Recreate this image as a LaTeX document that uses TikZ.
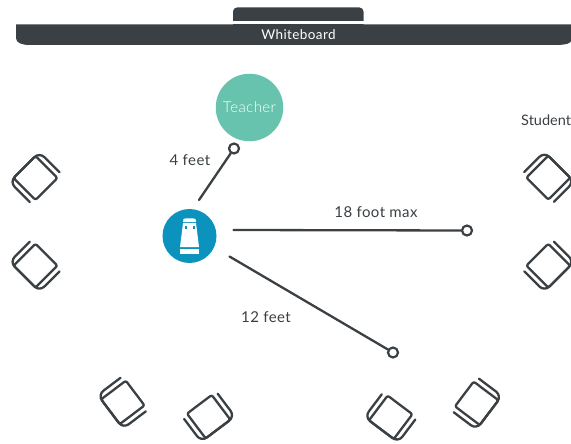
\documentclass[tikz,border=0pt]{standalone}
\usepackage{fontspec}
\setmainfont{Lato}
\newfontfamily\lightf[LetterSpace=3]{Lato Light}
\newfontfamily\spacedf[LetterSpace=3]{Lato}
\definecolor{dk}{HTML}{3A4043}
\definecolor{teal1}{HTML}{68C3AE}
\definecolor{blue1}{HTML}{0B93BD}
\tikzset{
 chairline/.style={draw=dk,line width=2.3pt,line cap=round,line join=round},
 measure/.style={draw=dk,line width=2.3pt,line cap=round},
 endring/.style={circle,draw=dk,line width=2.2pt,fill=white,minimum size=10pt,inner sep=0pt},
 lbl/.style={text=dk,font=\spacedf\fontsize{15}{17}\selectfont,inner sep=0pt},
 pics/chairshape/.style={code={
  \draw[chairline,rounded corners=2pt] (-15.5,-15.5) rectangle (15.5,15.5);
  \draw[chairline,rounded corners=7pt] (-21,13) -- (-21,-15.5) -- (21,-15.5) -- (21,13);
 }}
}
\begin{document}
\begin{tikzpicture}[x=1pt,y=-1pt]
\useasboundingbox (0,0) rectangle (571,444);
\clip (0,0) rectangle (571,444);
\fill[dk,rounded corners=4pt] (233,30) -- (233,7.5) -- (363.5,7.5) -- (363.5,30) -- cycle;
\fill[white] (225,21) rectangle (370,24.5);
\fill[dk] (16,24.5) -- (16,38) .. controls (16,43) and (22,45) .. (30,45) -- (556,45) .. controls (566,45) and (571,43) .. (571,41) -- (571,24.5) -- cycle;
\node[text=white,font=\spacedf\fontsize{13.5}{15}\selectfont,inner sep=0pt] (wb) at (298.5,35) {Whiteboard};
\node[circle,fill=teal1,minimum size=67.5pt,inner sep=0pt,text=white,font=\lightf\fontsize{15}{17}\selectfont] (teacher) at (249.5,107.5) {Teacher};
\node[circle,fill=blue1,minimum size=54pt,inner sep=0pt] (device) at (189.5,236) {};
\fill[white] (183.5,219) .. controls (184,218) and (195,218) .. (195.5,219) -- (196,222) -- (183,222) -- cycle;
\fill[white] (183,223) -- (196,223) -- (199,247) -- (180,247) -- cycle;
\fill[white] (180,249) rectangle (199,253.5);
\fill[blue1] (184.5,226) rectangle (186.5,228.5);
\fill[blue1] (192.5,226) rectangle (194.5,228.5);
\coordinate (a1s) at (199,200);
\node[endring] (a1e) at (234,148.5) {};
\coordinate (a2s) at (233.5,230);
\node[endring] (a2e) at (467,230.5) {};
\coordinate (a3s) at (229.5,256.5);
\node[endring] (a3e) at (393,352.5) {};
\draw[measure] (a1s) -- (a1e);
\draw[measure] (a2s) -- (a2e);
\draw[measure] (a3s) -- (a3e);
\node[lbl] (l1) at (190,160.5) {4 feet};
\node[lbl] (l2) at (376,212.5) {18 foot max};
\node[lbl] (l3) at (266,317) {12 feet};
\node[lbl,anchor=west,font=\fontsize{14.5}{16}\selectfont] (st) at (521,120) {Students};
\pic[rotate=45] at (35.5,178) {chairshape};
\pic[rotate=135] at (35.5,265.7) {chairshape};
\pic[rotate=127] at (122.8,402.4) {chairshape};
\pic[rotate=217] at (208.7,416.7) {chairshape};
\pic[rotate=143] at (390.7,417.3) {chairshape};
\pic[rotate=233] at (476.7,403.3) {chairshape};
\pic[rotate=-45] at (548.3,177.7) {chairshape};
\pic[rotate=225] at (548.3,265.7) {chairshape};
\end{tikzpicture}
\end{document}
